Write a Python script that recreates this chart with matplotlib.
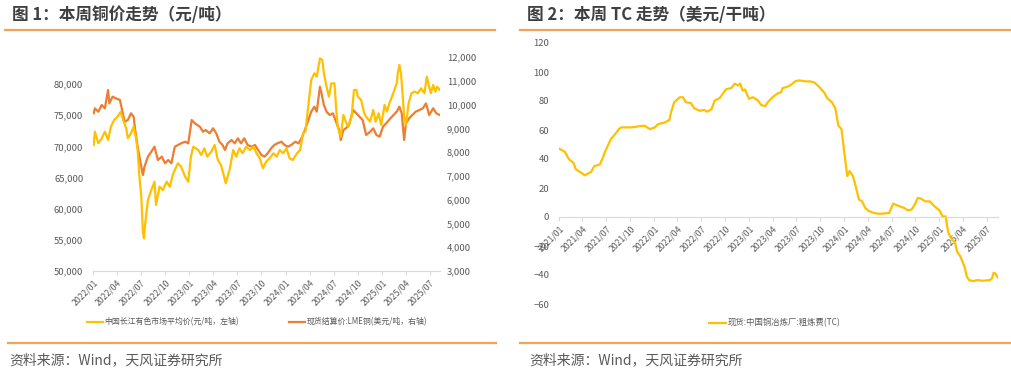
import matplotlib
matplotlib.use("Agg")
import matplotlib.pyplot as plt
import matplotlib.dates as mdates
from matplotlib.lines import Line2D
import pandas as pd

plt.rcParams['font.family'] = ['Noto Sans CJK SC', 'DejaVu Sans']

# ---------------- data: chart 1 ----------------
cj_dates = ["2022-01-04","2022-01-08","2022-01-21","2022-02-03","2022-02-15","2022-02-27","2022-03-10","2022-03-22",
            "2022-04-04","2022-04-16","2022-04-25","2022-05-07","2022-05-13","2022-05-25","2022-06-04","2022-06-13",
            "2022-06-19","2022-06-26","2022-07-03","2022-07-09","2022-07-13","2022-07-18","2022-07-28","2022-08-10",
            "2022-08-22","2022-08-28","2022-09-10","2022-09-23","2022-10-07","2022-10-19","2022-11-01","2022-11-19",
            "2022-12-01","2022-12-16","2022-12-28","2023-01-07","2023-01-16","2023-02-04","2023-02-15","2023-02-27",
            "2023-03-10","2023-03-25","2023-04-07","2023-04-19","2023-05-01","2023-05-13","2023-05-19","2023-06-04",
            "2023-06-16","2023-06-28","2023-07-10","2023-07-22","2023-08-04","2023-08-19","2023-09-01","2023-09-13",
            "2023-09-25","2023-10-07","2023-10-19","2023-11-01","2023-11-16","2023-11-28","2023-12-10","2023-12-22",
            "2024-01-04","2024-01-16","2024-01-28","2024-02-13","2024-02-25","2024-03-07","2024-03-16","2024-03-25",
            "2024-04-07","2024-04-19","2024-04-28","2024-05-10","2024-05-19","2024-05-25","2024-06-04","2024-06-13",
            "2024-06-22","2024-07-04","2024-07-10","2024-07-16","2024-07-28","2024-08-07","2024-08-16","2024-08-25",
            "2024-09-07","2024-09-16","2024-09-25","2024-10-01","2024-10-13","2024-10-25","2024-11-01","2024-11-16",
            "2024-11-28","2024-12-07","2024-12-19","2024-12-28","2025-01-10","2025-01-19","2025-01-28","2025-02-07",
            "2025-02-16","2025-02-25","2025-03-01","2025-03-07","2025-03-13","2025-03-19","2025-03-25","2025-04-01",
            "2025-04-11","2025-04-22","2025-05-04","2025-05-16","2025-05-28","2025-06-10","2025-06-19","2025-06-25",
            "2025-07-04","2025-07-13","2025-07-22","2025-07-28","2025-08-07"]
cj_price = [70200,72350,70490,71290,72350,71020,73150,74230,
            74760,75560,74230,72890,71290,72090,73150,71290,
            69410,65130,61920,56300,55250,57650,61390,63000,
            64330,60590,63520,63000,64330,63520,65670,67280,
            66740,65130,64330,68340,69940,69410,68610,69680,
            68340,69140,70210,67810,67000,65130,64070,66480,
            69410,68340,69680,68880,69940,69410,69940,68880,
            68080,66480,67540,68080,68880,68340,69410,68880,
            69680,68080,67810,68880,69410,72090,72350,75830,
            80640,81720,81180,84120,83850,81720,79570,77960,
            80100,80100,76360,73150,71550,75030,73950,73150,
            74760,79040,79040,77960,77430,75300,74760,73950,
            75830,73950,75300,73420,76630,75560,76900,77960,
            79040,80100,81720,83050,81720,78510,74760,73420,
            76900,78510,78780,78510,79310,78510,81180,80100,
            78510,79840,78780,79570,79040]

lme_dates = ["2022-01-04","2022-01-08","2022-01-21","2022-02-03","2022-02-15","2022-02-27","2022-03-04","2022-03-16",
             "2022-03-29","2022-04-13","2022-04-20","2022-05-01","2022-05-13","2022-05-25","2022-06-04","2022-06-10",
             "2022-06-17","2022-06-26","2022-07-09","2022-07-15","2022-07-28","2022-08-10","2022-08-22","2022-09-04",
             "2022-09-19","2022-10-01","2022-10-13","2022-10-25","2022-11-07","2022-11-19","2022-12-01","2022-12-16",
             "2022-12-28","2023-01-10","2023-01-22","2023-02-10","2023-02-22","2023-03-04","2023-03-19","2023-04-01",
             "2023-04-13","2023-04-25","2023-05-07","2023-05-16","2023-05-26","2023-06-10","2023-06-22","2023-07-04",
             "2023-07-16","2023-07-28","2023-08-10","2023-08-25","2023-09-07","2023-09-19","2023-10-01","2023-10-13",
             "2023-10-25","2023-11-07","2023-11-19","2023-12-01","2023-12-16","2023-12-28","2024-01-10","2024-01-22",
             "2024-02-07","2024-02-19","2024-03-01","2024-03-13","2024-03-25","2024-04-07","2024-04-19","2024-04-28",
             "2024-05-10","2024-05-16","2024-05-25","2024-06-04","2024-06-16","2024-06-28","2024-07-10","2024-07-22",
             "2024-07-28","2024-08-07","2024-08-16","2024-08-28","2024-09-13","2024-09-25","2024-10-07","2024-10-19",
             "2024-11-01","2024-11-16","2024-11-28","2024-12-10","2024-12-22","2025-01-04","2025-01-16","2025-02-01",
             "2025-02-13","2025-02-25","2025-03-07","2025-03-16","2025-03-25","2025-04-01","2025-04-13","2025-04-25",
             "2025-05-08","2025-05-22","2025-06-04","2025-06-16","2025-06-28","2025-07-13","2025-07-25","2025-08-07"]
lme_price = [9632,9842,9700,9981,9842,10612,10052,10330,
             10262,10191,9842,9280,9350,9632,9490,8930,
             8370,7807,7037,7386,7807,8017,8227,7668,
             7807,7529,7668,7529,8227,8299,8370,8437,
             8370,9350,9211,9068,8858,8929,8790,9000,
             8790,8437,8299,8088,8370,8509,8370,8580,
             8370,8580,8299,8227,8299,8088,7878,7807,
             7950,8160,8299,8370,8437,8299,8227,8299,
             8437,8370,8580,8900,9280,9700,9910,9700,
             10750,10470,9981,9700,9560,9632,9280,8930,
             8509,8930,9000,9140,9770,9632,9490,9350,
             8720,8858,9000,8720,8650,9068,9211,9420,
             9560,9700,9910,9632,8509,9211,9420,9560,
             9700,9770,9842,10052,9560,9842,9632,9560]

ticks1 = ["2022/01","2022/04","2022/07","2022/10","2023/01","2023/04","2023/07","2023/10",
          "2024/01","2024/04","2024/07","2024/10","2025/01","2025/04","2025/07"]

# ---------------- data: chart 2 ----------------
tc_dates = ["2021-01-01","2021-01-24","2021-02-08","2021-02-25","2021-03-07","2021-03-28","2021-04-10","2021-04-22",
            "2021-05-04","2021-05-16","2021-06-07","2021-06-19","2021-06-25","2021-07-07","2021-07-19","2021-08-04",
            "2021-08-19","2021-08-28","2021-10-07","2021-11-01","2021-11-25","2021-12-16","2022-01-04","2022-01-16",
            "2022-02-13","2022-03-01","2022-03-07","2022-03-19","2022-04-10","2022-04-22","2022-05-04","2022-05-22",
            "2022-06-04","2022-06-25","2022-07-13","2022-07-25","2022-08-10","2022-08-22","2022-09-10","2022-10-04",
            "2022-10-25","2022-11-07","2022-11-19","2022-11-28","2022-12-07","2022-12-16","2023-01-01","2023-01-16",
            "2023-02-04","2023-02-16","2023-03-04","2023-03-13","2023-04-01","2023-04-22","2023-05-04","2023-05-10",
            "2023-05-25","2023-06-10","2023-06-28","2023-07-13","2023-08-07","2023-08-25","2023-09-10","2023-09-28",
            "2023-10-16","2023-10-28","2023-11-16","2023-11-28","2023-12-10","2023-12-22","2024-01-01","2024-01-13",
            "2024-01-22","2024-02-04","2024-02-16","2024-02-27","2024-03-10","2024-03-22","2024-04-07","2024-04-25",
            "2024-05-10","2024-05-28","2024-06-22","2024-07-07","2024-08-01","2024-08-19","2024-09-01","2024-09-16",
            "2024-09-28","2024-10-10","2024-10-22","2024-11-07","2024-11-25","2024-12-13","2025-01-01","2025-01-13",
            "2025-01-25","2025-02-04","2025-02-19","2025-03-01","2025-03-10","2025-03-22","2025-04-07","2025-04-16",
            "2025-04-25","2025-05-10","2025-05-28","2025-06-16","2025-07-13","2025-07-22","2025-07-28","2025-08-04",
            "2025-08-13"]
tc_value = [47.2,44.9,39.8,37.5,32.8,30.5,28.7,30.0,
            31.0,35.0,36.3,41.0,44.4,49.0,53.7,57.0,
            60.6,61.8,61.8,62.5,63.0,60.6,61.8,64.0,
            65.3,67.0,72.0,79.0,82.6,82.6,79.0,78.7,
            75.0,73.3,73.8,72.6,74.5,80.3,82.0,88.0,
            89.0,92.0,90.7,92.0,87.2,88.0,81.5,82.6,
            80.3,77.3,76.4,79.0,82.6,85.4,86.0,89.0,
            89.6,91.0,93.7,94.2,93.5,93.5,92.6,89.6,
            86.0,82.0,79.0,75.0,63.0,60.6,45.5,28.2,
            31.7,28.2,20.1,12.0,10.8,6.2,3.9,2.8,
            2.3,2.3,2.8,9.2,7.4,6.2,4.6,5.1,
            8.5,13.2,12.7,10.8,10.8,7.4,4.6,0.4,
            0.4,-11.0,-15.8,-17.0,-24.0,-27.0,-34.0,-41.0,
            -43.5,-44.2,-43.5,-44.0,-43.5,-42.3,-38.5,-39.0,
            -41.7]

ticks2 = ["2021/01","2021/04","2021/07","2021/10","2022/01","2022/04","2022/07","2022/10","2023/01",
          "2023/04","2023/07","2023/10","2024/01","2024/04","2024/07","2024/10","2025/01","2025/04","2025/07"]

YELLOW = "#FFC000"
ORANGE = "#ED7D31"
RULE = "#F4A259"
TXT = "#595959"
AXC = "#D9D9D9"

W, H = 1011, 372
fig = plt.figure(figsize=(W / 100, H / 100), dpi=100)


def box(x0, y0, x1, y1):
    return [x0 / W, 1 - y1 / H, (x1 - x0) / W, (y1 - y0) / H]


def hline(x0, x1, y):
    fig.add_artist(Line2D([x0 / W, x1 / W], [1 - y / H, 1 - y / H], color=RULE, lw=1.6,
                          transform=fig.transFigure))


def to_dt(lst):
    return pd.to_datetime(lst)


def tick_dt(lst):
    return pd.to_datetime([t.replace("/", "-") + "-01" for t in lst])


# titles & rules
fig.text(12 / W, 1 - 15 / H, "图 1：本周铜价走势（元/吨）", fontsize=12, fontweight="bold",
         color="#404040", va="center", ha="left")
fig.text(527 / W, 1 - 15 / H, "图 2：本周 TC 走势（美元/干吨）", fontsize=12, fontweight="bold",
         color="#404040", va="center", ha="left")
hline(5, 495, 30)
hline(520, 1011, 30)
hline(8, 496, 343)
hline(520, 1011, 343)
fig.text(9 / W, 1 - 360 / H, "资料来源：Wind，天风证券研究所", fontsize=10, color=TXT, va="center", ha="left")
fig.text(529 / W, 1 - 360 / H, "资料来源：Wind，天风证券研究所", fontsize=10, color=TXT, va="center", ha="left")

# ---------------- chart 1 ----------------
ax1 = fig.add_axes(box(93, 57, 440, 271))
ax1r = ax1.twinx()
l1, = ax1.plot(to_dt(cj_dates), cj_price, color=YELLOW, lw=1.6, zorder=3)
l2, = ax1r.plot(to_dt(lme_dates), lme_price, color=ORANGE, lw=1.6, zorder=2)
ax1.set_zorder(ax1r.get_zorder() + 1)
ax1.patch.set_visible(False)
ax1.set_xlim(pd.Timestamp("2022-01-01"), pd.Timestamp("2025-08-08"))
ax1.set_ylim(50000, 84330)
ax1r.set_ylim(3000, 12000)
ax1.set_yticks(range(50000, 80001, 5000))
ax1r.set_yticks(range(3000, 12001, 1000))
ax1.yaxis.set_major_formatter(matplotlib.ticker.FuncFormatter(lambda v, p: f"{int(v):,}"))
ax1r.yaxis.set_major_formatter(matplotlib.ticker.FuncFormatter(lambda v, p: f"{int(v):,}"))
ax1.set_xticks(tick_dt(ticks1))
ax1.set_xticklabels(ticks1, rotation=45, ha="right", rotation_mode="anchor")
for a in (ax1, ax1r):
    for s in a.spines.values():
        s.set_visible(False)
ax1.tick_params(axis="y", length=0, labelsize=6.8, labelcolor=TXT, pad=7)
ax1r.tick_params(axis="y", length=0, labelsize=6.8, labelcolor=TXT, pad=5)
ax1.spines["bottom"].set_visible(True)
ax1.spines["bottom"].set_color(AXC)
ax1.tick_params(axis="x", length=3, color=AXC, labelsize=6.3, labelcolor=TXT, pad=2)

fig.legend([l1, l2], ["中国长江有色市场平均价(元/吨，左轴)", "现货结算价:LME铜(美元/吨，右轴)"],
           loc="center left", bbox_to_anchor=(87 / W, 1 - 322 / H), ncol=2, frameon=False,
           fontsize=5.7, labelcolor=TXT, handlelength=2.0, handletextpad=0.2, columnspacing=6.3,
           borderaxespad=0, borderpad=0)

# ---------------- chart 2 ----------------
ax2 = fig.add_axes(box(559, 43, 998, 304))
l3, = ax2.plot(to_dt(tc_dates), tc_value, color=YELLOW, lw=1.6)
ax2.set_xlim(pd.Timestamp("2021-01-01"), pd.Timestamp("2025-08-14"))
ax2.set_ylim(-60, 120)
ax2.set_yticks(range(-60, 121, 20))
for s in ("left", "right", "top"):
    ax2.spines[s].set_visible(False)
ax2.spines["bottom"].set_position(("data", 0))
ax2.spines["bottom"].set_color(AXC)
ax2.set_xticks(tick_dt(ticks2))
ax2.set_xticklabels(ticks2, rotation=45, ha="right", rotation_mode="anchor")
ax2.tick_params(axis="x", length=3, color=AXC, labelsize=6.3, labelcolor=TXT, pad=2)
ax2.tick_params(axis="y", length=0, labelsize=6.8, labelcolor=TXT, pad=7)

fig.legend([l3], ["现货:中国铜冶炼厂:粗炼费(TC)"], loc="center left",
           bbox_to_anchor=(709 / W, 1 - 323 / H), frameon=False, fontsize=6, labelcolor=TXT,
           handlelength=2.0, handletextpad=0.2, borderaxespad=0, borderpad=0)

fig.savefig("out.png", dpi=100)
